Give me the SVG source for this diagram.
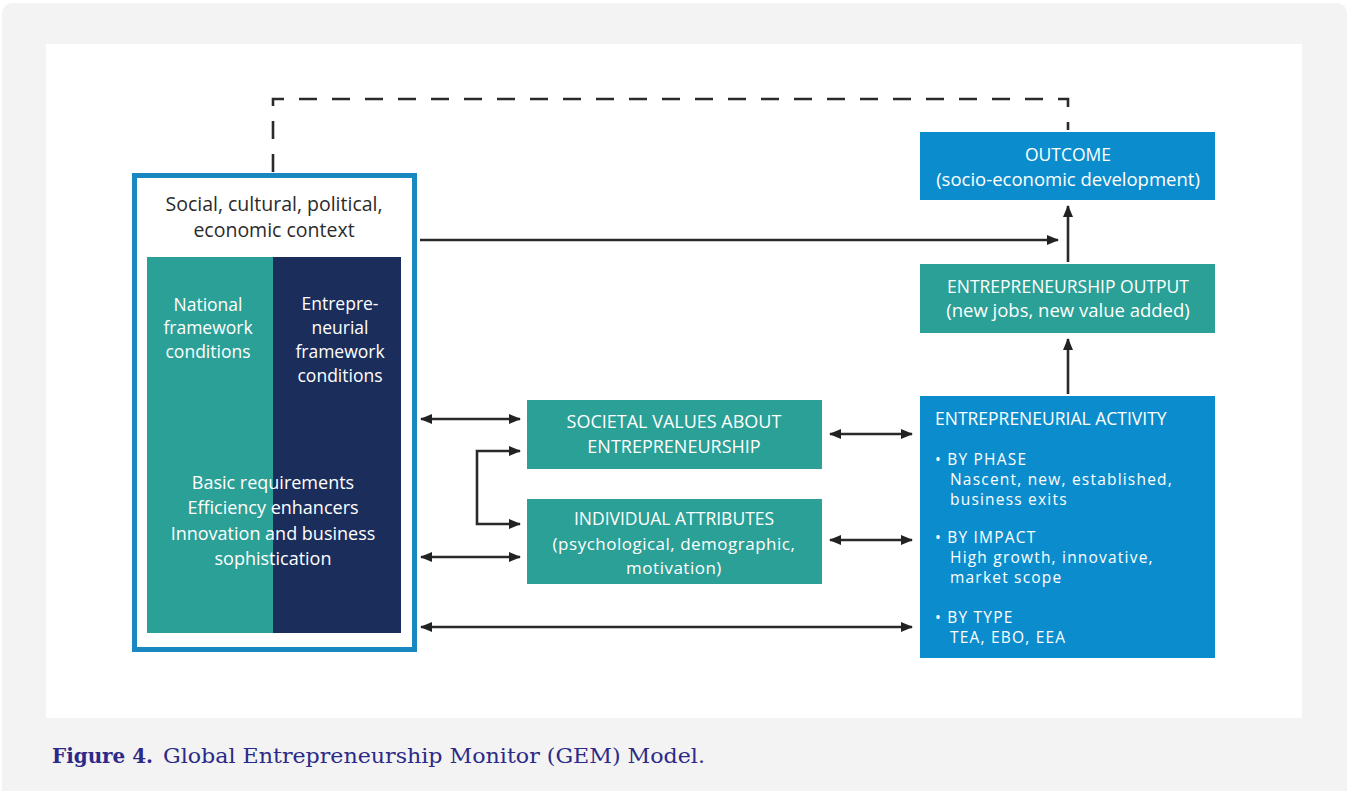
<svg xmlns="http://www.w3.org/2000/svg" width="1349" height="791" viewBox="0 0 1349 791">
<defs>
<marker id="ah" viewBox="0 0 12 10" refX="11" refY="5" markerWidth="12" markerHeight="10" markerUnits="userSpaceOnUse" orient="auto-start-reverse">
<path d="M0,0 L12,5 L0,10 Z" fill="#222"/>
</marker>
<style>
.t{font-family:"Open Sans","Liberation Sans",sans-serif;fill:#fff;}
.c{text-anchor:middle;}
.dk{fill:#2b2b2b;}
.a{font-size:15.5px;letter-spacing:1.2px;}
.line{stroke:#2a2a2a;stroke-width:2.6;fill:none;}
.blue{fill:#0b8dcd;}
.teal{fill:#2aa097;}
.navy{fill:#1b2e5b;}
.cap{font-family:"DejaVu Serif","Liberation Serif",serif;fill:#2c2a88;font-size:21px;}
</style>
</defs>
<rect x="0" y="0" width="1349" height="791" fill="#ffffff"/>
<rect x="2" y="3" width="1345" height="800" rx="10" fill="#f3f3f3"/>
<rect x="46" y="44" width="1256" height="674" fill="#ffffff"/>

<g id="connectors">
<path class="line" d="M273,172 V99 H1068 V130" stroke-dasharray="18 15"/>
<line class="line" x1="420" y1="240" x2="1058" y2="240" marker-end="url(#ah)"/>
<line class="line" x1="1068" y1="262" x2="1068" y2="206" marker-end="url(#ah)"/>
<line class="line" x1="1068" y1="394" x2="1068" y2="339" marker-end="url(#ah)"/>
<line class="line" x1="421" y1="419" x2="520" y2="419" marker-start="url(#ah)" marker-end="url(#ah)"/>
<line class="line" x1="421" y1="557" x2="520" y2="557" marker-start="url(#ah)" marker-end="url(#ah)"/>
<path class="line" d="M520,451 H477 V524 H520" marker-start="url(#ah)" marker-end="url(#ah)"/>
<line class="line" x1="830" y1="434" x2="912" y2="434" marker-start="url(#ah)" marker-end="url(#ah)"/>
<line class="line" x1="830" y1="540" x2="912" y2="540" marker-start="url(#ah)" marker-end="url(#ah)"/>
<line class="line" x1="421" y1="627" x2="912" y2="627" marker-start="url(#ah)" marker-end="url(#ah)"/>
</g>

<g id="context">
<rect x="134.5" y="175.5" width="280" height="474" fill="#ffffff" stroke="#1a88c0" stroke-width="5"/>
<text class="t c dk" x="274" y="211" font-size="19.5">Social, cultural, political,</text>
<text class="t c dk" x="274" y="237" font-size="19.5">economic context</text>
</g>

<g id="national">
<rect class="teal" x="147" y="257" width="126" height="376"/>
<text class="t c" x="208" y="311" font-size="17.5">National</text>
<text class="t c" x="208" y="334" font-size="17.5">framework</text>
<text class="t c" x="208" y="358" font-size="17.5">conditions</text>
</g>

<g id="entrepreneurial-framework">
<rect class="navy" x="273" y="257" width="128" height="376"/>
<text class="t c" x="340" y="310" font-size="17.5">Entrepre-</text>
<text class="t c" x="340" y="334" font-size="17.5">neurial</text>
<text class="t c" x="340" y="358" font-size="17.5">framework</text>
<text class="t c" x="340" y="382" font-size="17.5">conditions</text>
</g>

<g id="requirements">
<text class="t c" x="273" y="489" font-size="18">Basic requirements</text>
<text class="t c" x="273" y="514" font-size="18">Efficiency enhancers</text>
<text class="t c" x="273" y="540" font-size="18">Innovation and business</text>
<text class="t c" x="273" y="565" font-size="18">sophistication</text>
</g>

<g id="outcome">
<rect class="blue" x="920" y="132" width="295" height="68"/>
<text class="t c" x="1068" y="161" font-size="17.5">OUTCOME</text>
<text class="t c" x="1068" y="186" font-size="18.5">(socio-economic development)</text>
</g>

<g id="output">
<rect class="teal" x="920" y="264" width="295" height="69"/>
<text class="t c" x="1068" y="293" font-size="17.5">ENTREPRENEURSHIP OUTPUT</text>
<text class="t c" x="1068" y="317" font-size="18.5">(new jobs, new value added)</text>
</g>

<g id="activity">
<rect class="blue" x="920" y="396" width="295" height="262"/>
<text class="t" x="935" y="425" font-size="17.5">ENTREPRENEURIAL ACTIVITY</text>
<text class="t a" x="935" y="465">• BY PHASE</text>
<text class="t a" x="950" y="485">Nascent, new, established,</text>
<text class="t a" x="950" y="505">business exits</text>
<text class="t a" x="935" y="543">• BY IMPACT</text>
<text class="t a" x="950" y="563">High growth, innovative,</text>
<text class="t a" x="950" y="583">market scope</text>
<text class="t a" x="935" y="623">• BY TYPE</text>
<text class="t a" x="950" y="643">TEA, EBO, EEA</text>
</g>

<g id="societal">
<rect class="teal" x="527" y="400" width="295" height="69"/>
<text class="t c" x="674" y="428" font-size="18">SOCIETAL VALUES ABOUT</text>
<text class="t c" x="674" y="453" font-size="18">ENTREPRENEURSHIP</text>
</g>

<g id="individual">
<rect class="teal" x="527" y="499" width="295" height="85"/>
<text class="t c" x="674" y="525" font-size="17.5">INDIVIDUAL ATTRIBUTES</text>
<text class="t c" x="674" y="550" font-size="17" letter-spacing="0.5">(psychological, demographic,</text>
<text class="t c" x="674" y="574" font-size="17" letter-spacing="0.5">motivation)</text>
</g>

<text class="cap" x="52" y="763" font-weight="bold" textLength="101" lengthAdjust="spacingAndGlyphs">Figure 4.</text>
<text class="cap" x="163" y="763" font-size="22" textLength="542" lengthAdjust="spacingAndGlyphs">Global Entrepreneurship Monitor (GEM) Model.</text>
</svg>
